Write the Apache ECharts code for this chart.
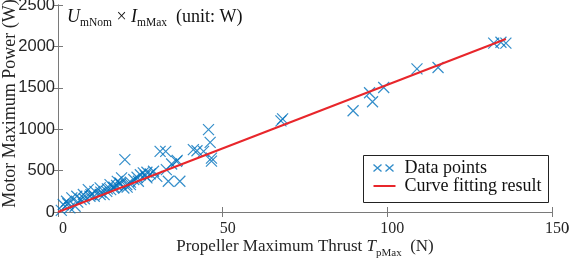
<!DOCTYPE html>
<html><head><meta charset="utf-8">
<script src="https://cdn.jsdelivr.net/npm/echarts@6/dist/echarts.min.js"></script>
<style>html,body{margin:0;padding:0;background:#fff}#c{width:572px;height:258px}</style>
</head><body><div id="c"></div>
<script>
// ---- data ----
const xTickValues = [0, 50, 100, 150];
const yTickValues = [0, 500, 1000, 1500, 2000, 2500];
const thrustN = [
  1.0, 1.6, 2.6, 3.0, 3.6, 4.2, 5.2, 5.7, 6.0, 7.0, 7.7, 8.0, 9.2, 9.7, 10.0, 11.0, 11.2, 12.8, 12.8, 13.0,
  14.0, 14.8, 15.0, 15.8, 16.0, 16.8, 17.0, 17.8, 18.0, 18.8, 19.0, 19.3, 20.0, 20.3, 20.9, 21.0, 22.0, 22.0, 23.0, 24.0,
  24.4, 25.0, 25.9, 26.5, 27.0, 27.0, 28.0, 29.0, 30.0, 31.0, 32.7, 32.9, 33.5, 34.5, 36.0, 36.2, 37.0, 41.1, 42.2, 44.2,
  45.7, 46.2, 46.6, 46.6, 67.7, 68.2, 89.6, 94.6, 95.5, 98.9, 109.0, 115.4, 132.3, 134.5, 136.0
];
const powerW = [
  20, 90, 130, 100, 50, 171, 70, 190, 120, 150, 211, 160, 271, 190, 210, 190, 250, 292, 211, 240,
  210, 250, 280, 331, 270, 292, 300, 320, 370, 352, 340, 412, 290, 633, 331, 300, 330, 360, 392, 420,
  371, 450, 472, 440, 412, 480, 460, 492, 431, 733, 733, 512, 371, 580, 612, 624, 371, 753, 740, 733,
  994, 840, 615, 650, 1100, 1125, 1223, 1440, 1331, 1504, 1729, 1745, 2039, 2050, 2039
];
const fitThrustN = [0, 136];
const fitPowerW = [0, 2090];

const serif = '"Liberation Serif","Times New Roman",serif';
const sans = '"Liberation Sans",Arial,sans-serif';
const axisGray = '#7a7a7a';
const blue = '#0072BD';
const red = '#e8262b';

const chart = echarts.init(document.getElementById('c'), null, {renderer: 'canvas'});
const xMark = 'path://M0,0L10,10M10,0L0,10';
const xx = 'path://M0,0L8,7M8,0L0,7M12,0L20,7M20,0L12,7M26,7';
const redLine = 'path://M0,0M26,7M0,2.5H22V4.5H0Z';

const tickInside = {show: true, inside: true, length: 5, lineStyle: {color: axisGray}};
const lineStyle = {show: true, lineStyle: {color: axisGray, width: 1}};

chart.setOption({
  animation: false,
  backgroundColor: '#fff',
  grid: {left: 58, right: 20, top: 5, bottom: 46, containLabel: false, outerBoundsMode: 'none'},
  xAxis: [
    {
      type: 'value', position: 'bottom', min: xTickValues[0], max: xTickValues[xTickValues.length - 1],
      interval: xTickValues[1] - xTickValues[0],
      axisLine: lineStyle, axisTick: tickInside, splitLine: {show: false},
      axisLabel: {fontFamily: serif, fontSize: 16, color: '#262626', margin: 9,
                  padding: [0, 0, 0, 10], formatter: v => String(v)},
      name: '{n|Propeller Maximum Thrust }{i|T}{s|pMax}{n|  (N)}',
      nameLocation: 'middle', nameGap: 23, nameMoveOverlap: false,
      nameTextStyle: {
        rich: {
          n: {fontFamily: serif, fontSize: 17, color: '#262626', lineHeight: 24},
          i: {fontFamily: serif, fontSize: 17, fontStyle: 'italic', color: '#262626', lineHeight: 24},
          s: {fontFamily: serif, fontSize: 11, color: '#262626', lineHeight: 12, verticalAlign: 'bottom'}
        }
      }
    },
    {
      type: 'value', position: 'top', min: xTickValues[0], max: xTickValues[xTickValues.length - 1],
      interval: xTickValues[1] - xTickValues[0],
      axisLine: lineStyle, axisTick: tickInside, axisLabel: {show: false}, splitLine: {show: false}
    }
  ],
  yAxis: [
    {
      type: 'value', position: 'left', min: yTickValues[0], max: yTickValues[yTickValues.length - 1],
      interval: yTickValues[1] - yTickValues[0],
      axisLine: lineStyle, axisTick: tickInside, splitLine: {show: false},
      axisLabel: {fontFamily: sans, fontSize: 16.5, color: '#262626', margin: 3, formatter: v => String(v)},
      name: 'Motor Maximum Power (W)', nameLocation: 'middle', nameGap: 39, nameMoveOverlap: false,
      nameTextStyle: {fontFamily: serif, fontSize: 18, color: '#262626', padding: [0, 0, 0, 10]}
    },
    {
      type: 'value', position: 'right', min: yTickValues[0], max: yTickValues[yTickValues.length - 1],
      interval: yTickValues[1] - yTickValues[0],
      axisLine: lineStyle, axisTick: tickInside, axisLabel: {show: false}, splitLine: {show: false}
    }
  ],
  legend: {
    orient: 'vertical', left: 371, top: 159, itemGap: 0, itemWidth: 26, itemHeight: 7,
    padding: 0,
    textStyle: {fontFamily: serif, fontSize: 18, color: '#111'},
    data: [
      {name: 'Data points', icon: xx, itemStyle: {color: 'none', borderColor: blue, borderWidth: 1.4}},
      {name: 'Curve fitting result', icon: redLine, itemStyle: {color: red, borderWidth: 0}}
    ]
  },
  graphic: [
    {type: 'rect', left: 361, top: 153, shape: {width: 185, height: 47},
     style: {fill: 'none', stroke: '#222', lineWidth: 1}, z: 1},
    {type: 'text', left: 67, top: 8, z: 10,
     style: {
       text: '{i|U}{s|mNom}{n| × }{i|I}{s|mMax}{n|  (unit: W)}',
       rich: {
         n: {fontFamily: serif, fontSize: 18, fill: '#111', lineHeight: 24},
         i: {fontFamily: serif, fontSize: 18, fontStyle: 'italic', fill: '#111', lineHeight: 24},
         s: {fontFamily: serif, fontSize: 11.5, fill: '#111', lineHeight: 12, verticalAlign: 'bottom'}
       }
     }},
    {type: 'text', left: 565, top: 221, style: {text: ')', fontFamily: serif, fontSize: 13, fill: '#444'}}
  ],
  series: [
    {
      name: 'Data points', type: 'scatter', symbol: xMark, symbolSize: 11,
      itemStyle: {color: 'none', borderColor: blue, borderWidth: 1.2},
      data: thrustN.map((x, i) => [x, powerW[i]]), z: 3
    },
    {
      name: 'Curve fitting result', type: 'line', symbol: 'none', showSymbol: false,
      lineStyle: {color: red, width: 2}, itemStyle: {color: red},
      data: fitThrustN.map((x, i) => [x, fitPowerW[i]]), z: 4
    }
  ]
});
</script></body></html>
